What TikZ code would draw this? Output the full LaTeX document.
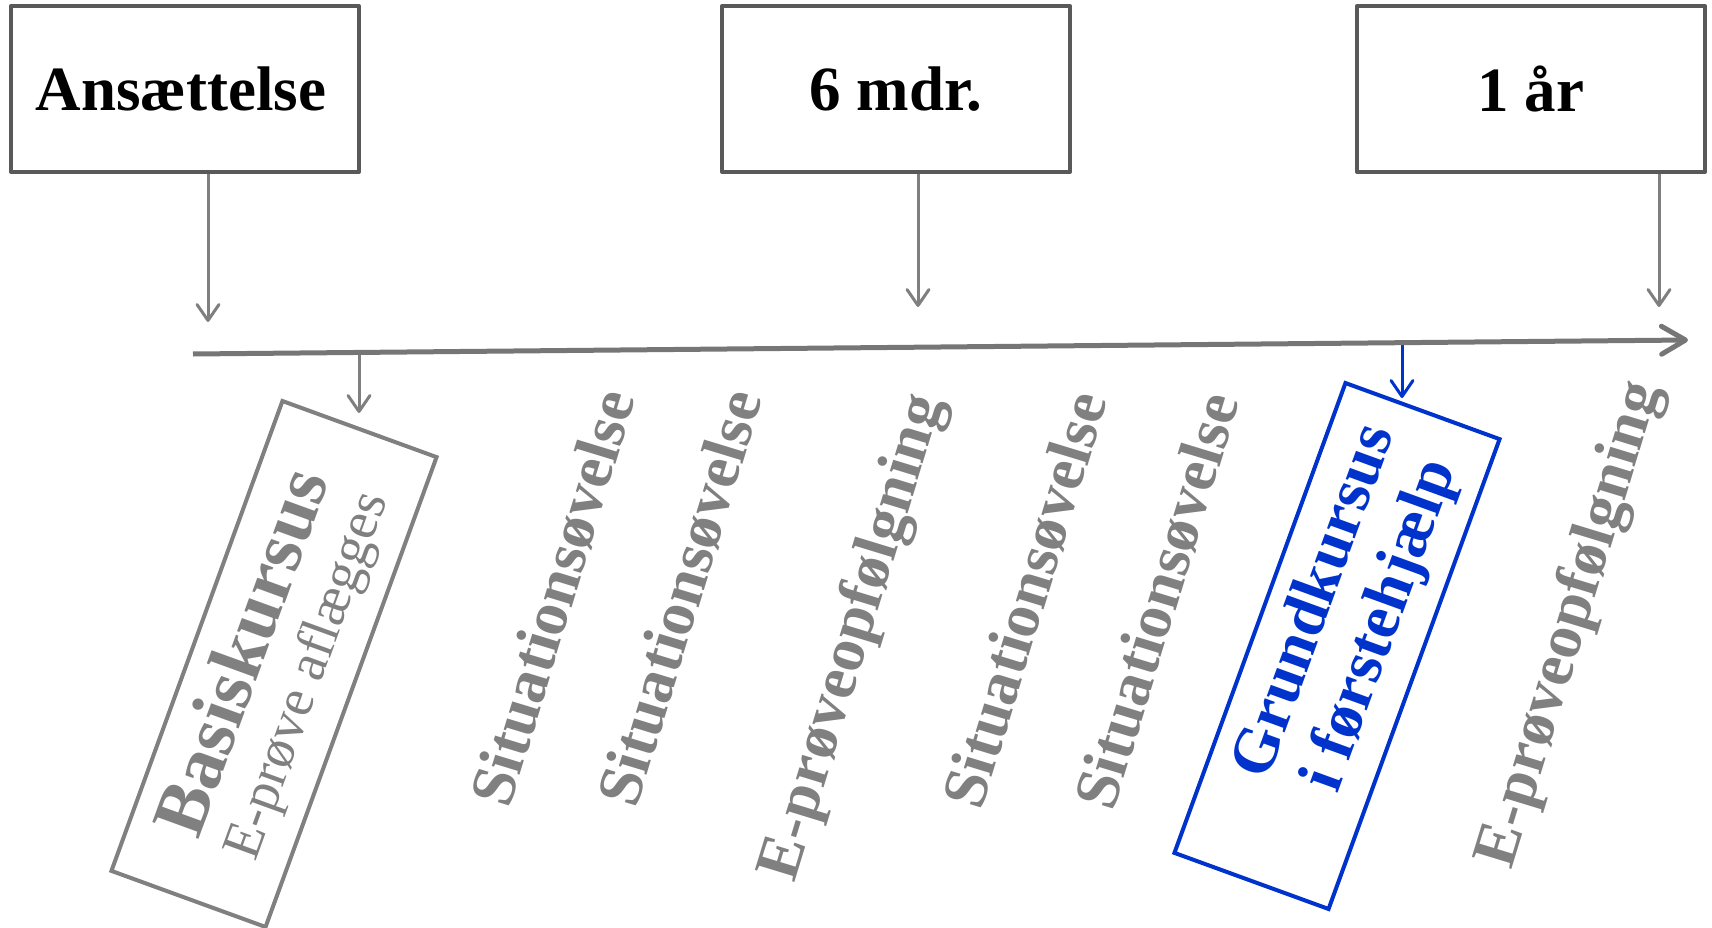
\documentclass[tikz,border=0pt]{standalone}
\usepackage{fontspec}
\setmainfont{Liberation Serif}
\usetikzlibrary{arrows.meta,positioning}

\definecolor{boxgray}{HTML}{595959}
\definecolor{arrowgray}{HTML}{7F7F7F}
\definecolor{axisgray}{HTML}{767676}
\definecolor{textgray}{HTML}{808080}
\definecolor{courseblue}{HTML}{0033CC}

\tikzset{
  periodbox/.style={draw=boxgray, line width=4pt, line join=round,
    minimum width=348pt, minimum height=166pt,
    font=\fontsize{63}{70}\selectfont\bfseries},
  droparrow/.style={draw=arrowgray, line width=3pt,
    -{Straight Barb[length=16pt,width=22pt,round]}},
  bluearrow/.style={draw=courseblue, line width=3pt,
    -{Straight Barb[length=16pt,width=22pt,round]}},
  timeaxis/.style={draw=axisgray, line width=5pt,
    -{Straight Barb[length=24pt,width=28pt,round]}},
  eventtext/.style={rotate=73, text=textgray, inner sep=0pt,
    font=\fontsize{63}{70}\selectfont\bfseries},
  coursetext/.style={rotate=70, text=courseblue, inner sep=0pt, align=center,
    font=\fontsize{64}{70}\selectfont\bfseries},
  coursebox/.style={rotate=70, line width=4pt, minimum width=500pt,
    minimum height=164pt, inner sep=0pt},
}

\begin{document}
\begin{tikzpicture}[x=1pt,y=-1pt]
      %\draw[help lines] (0,0) grid[step=100] (1712,928);
      \useasboundingbox (0,0) rectangle (1712,928);

      \node[periodbox] (ans)  at (185,89)  {\hspace*{-8pt}Ansættelse};
      \node[periodbox] (mdr)  at (896,89)  {6 mdr.};
      \node[periodbox] (aar)  at (1531,89) {1 år};

      \coordinate (d1) at (208,322);
      \coordinate (d2) at (918,307);
      \coordinate (d3) at (1659,307);
      \draw[droparrow] (ans.south -| d1) -- (d1);
      \draw[droparrow] (mdr.south -| d2) -- (d2);
      \draw[droparrow] (aar.south -| d3) -- (d3);

      \coordinate (ax0) at (193,354);
      \coordinate (ax1) at (1688,340);

      \coordinate (b1) at (359,413);
      \coordinate (g1) at (1402,398);
      \draw[droparrow] (b1 |- ax0) -- (b1);
      \draw[bluearrow] (g1 |- ax1) -- (g1);

      \draw[timeaxis] (ax0) -- (ax1);

      \node[coursebox, draw=textgray, text=textgray, align=center,
            font=\fontsize{55}{61}\selectfont] (basis) at (274,664)
            {{\fontsize{75}{80}\selectfont\bfseries Basiskursus}\\E-prøve aflægges};

      \node[eventtext] (sit1) at (553,598)  {Situationsøvelse};
      \node[eventtext] (sit2) at (680,598)  {Situationsøvelse};
      \node[eventtext] (epf1) at (854,638)  {E-prøveopfølgning};
      \node[eventtext] (sit3) at (1025,600) {Situationsøvelse};
      \node[eventtext] (sit4) at (1157,601) {Situationsøvelse};
      \node[eventtext] (epf2) at (1571,625) {E-prøveopfølgning};

      \node[coursebox, draw=courseblue] (grund) at (1337,646) {};
      \node[coursetext] (grundtxt) at (1349,614) {Grundkursus\\i førstehjælp};
\end{tikzpicture}
\end{document}
